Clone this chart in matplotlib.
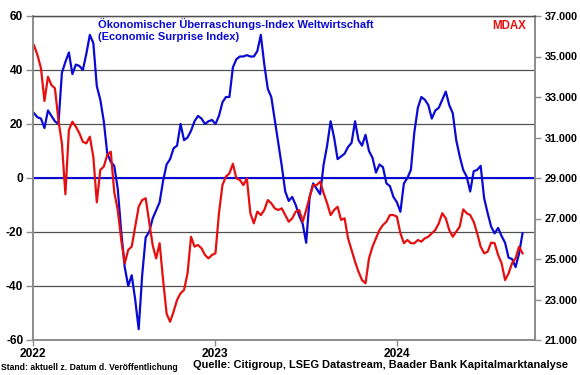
import matplotlib
matplotlib.use("Agg")
import matplotlib.pyplot as plt
import pandas as pd

plt.rcParams['font.family'] = ['Liberation Sans', 'DejaVu Sans']
plt.rcParams['font.weight'] = 'bold'

# weekly readings, first Monday of 2022 onwards
dates = pd.date_range("2022-01-03", periods=141, freq="7D")

# Citi Economic Surprise Index, global (left axis)
surprise = [
    24, 22.5, 22, 18.5, 25, 23, 21, 20, 39, 43,
    46.5, 38.5, 42, 41.5, 40, 46, 53, 50, 34, 29,
    21, 9, 6, 4.5, -4, -20, -33, -40, -36, -45,
    -56, -36, -22, -20, -15, -12, -9, -1, 5, 7,
    11, 12, 20, 14, 15, 17.5, 21, 23, 22, 20,
    21, 21.5, 20, 23, 28, 30, 30, 41, 44, 45,
    45, 45.5, 45, 45, 47, 53, 42, 33, 30, 21.5,
    13, 4.5, -5, -8.5, -7, -10, -14, -17, -24, -7,
    -2, -4, -6, 5, 12, 21, 15, 7, 8, 9,
    11.5, 13, 21, 14, 12, 16, 10, 7.5, 2, 5,
    4, -2, -3, -7, -9, -12.5, -2, 0, 3, 17,
    26, 30, 29, 27, 22, 25, 26, 29, 32, 27,
    24, 14, 8, 3, 0.5, -5, 2.5, 3, 4.5, -7.5,
    -13, -18, -20.5, -18.5, -21.5, -24, -29.5, -30, -33, -28,
    -20.5,
]

# MDAX (right axis)
mdax = [
    35550, 35070, 34420, 32800, 34000, 33590, 33430, 31860, 30700, 28200,
    31370, 31780, 31530, 31210, 30790, 30710, 31040, 30050, 27800, 29400,
    29560, 30140, 30300, 28300, 27420, 25940, 24790, 25450, 25610, 26600,
    27580, 27910, 28000, 26840, 25690, 25030, 25780, 23960, 22300, 21900,
    22400, 22980, 23310, 23470, 24290, 26100, 25610, 25690, 25530, 25200,
    25030, 25200, 25280, 27260, 28650, 29070, 29230, 29700, 28980, 28900,
    28650, 28980, 27260, 26760, 27340, 27170, 27420, 27910, 27750, 27500,
    27420, 27500, 27170, 26840, 27010, 27340, 27420, 26840, 27420, 28080,
    28650, 28650, 28820, 28250, 27750, 27170, 27420, 27580, 26930, 27010,
    26020, 25450, 24870, 24370, 23960, 23800, 25030, 25610, 26020, 26430,
    26680, 26840, 27170, 27170, 27090, 26270, 25780, 25940, 25780, 25780,
    25940, 25860, 26020, 26100, 26270, 26430, 26760, 27260, 27010, 26430,
    26100, 26350, 26600, 27450, 27260, 27170, 26840, 26270, 25610, 25280,
    25360, 25810, 25780, 25200, 24790, 23960, 24290, 24790, 25030, 25610,
    25280,
]

left_ticks = [-60, -40, -20, 0, 20, 40, 60]
right_ticks = [21000, 23000, 25000, 27000, 29000, 31000, 33000, 35000, 37000]
right_labels = ["21.000", "23.000", "25.000", "27.000", "29.000",
                "31.000", "33.000", "35.000", "37.000"]
year_ticks = pd.to_datetime(["2022-01-01", "2023-01-01", "2024-01-01"])
year_labels = ["2022", "2023", "2024"]

BLUE = '#0a0ad2'
RED = '#e60f0f'
GRAY = '#8c8c8c'

fig = plt.figure(figsize=(5.8, 3.75), dpi=100)
ax = fig.add_axes([33 / 580, 1 - 340 / 375, 502 / 580, 324 / 375])
ax2 = ax.twinx()

ax.set_xlim(pd.Timestamp("2022-01-01"), pd.Timestamp("2024-10-04"))
ax.set_ylim(-60, 60)
ax2.set_ylim(21000, 37000)

ax.grid(axis='y', color='#505050', lw=0.9)
ax.axhline(0, color=BLUE, lw=1.5, zorder=2)
ax.plot(dates, surprise, color=BLUE, lw=1.6, zorder=3)
ax2.plot(dates, mdax, color=RED, lw=1.6)

ax.set_yticks(left_ticks)
ax.set_yticklabels([str(t) for t in left_ticks])
ax2.set_yticks(right_ticks)
ax2.set_yticklabels(right_labels)
ax.set_xticks(year_ticks)
ax.set_xticklabels(year_labels)

for a in (ax, ax2):
    for side in ('left', 'right', 'bottom'):
        a.spines[side].set_color(GRAY)
        a.spines[side].set_linewidth(1.2)
    a.spines['top'].set_color('#505050')
    a.spines['top'].set_linewidth(0.9)

ax.tick_params(axis='y', length=5, width=1, color=GRAY, labelsize=8.6, pad=2)
ax2.tick_params(axis='y', length=4, width=1, color=GRAY, labelsize=7.8, pad=3)
ax.tick_params(axis='x', length=4, width=1, color=GRAY, labelsize=8.6, pad=2)

fig.text(98 / 580, 1 - 24 / 375, "Ökonomischer Überraschungs-Index Weltwirtschaft",
         color=BLUE, fontsize=8.0, fontweight='bold', va='center', ha='left')
fig.text(98 / 580, 1 - 37 / 375, "(Economic Surprise Index)",
         color=BLUE, fontsize=8.0, fontweight='bold', va='center', ha='left')
fig.text(526 / 580, 1 - 26 / 375, "MDAX", color=RED, fontsize=8.3,
         fontweight='bold', va='center', ha='right')

fig.text(1 / 580, 1 - 368 / 375, "Stand: aktuell z. Datum d. Veröffentlichung",
         fontsize=6.2, fontweight='bold', va='center', ha='left')
fig.text(193 / 580, 1 - 365 / 375,
         "Quelle: Citigroup, LSEG Datastream, Baader Bank Kapitalmarktanalyse",
         fontsize=7.9, fontweight='bold', va='center', ha='left')

fig.savefig("out.png", dpi=100)
